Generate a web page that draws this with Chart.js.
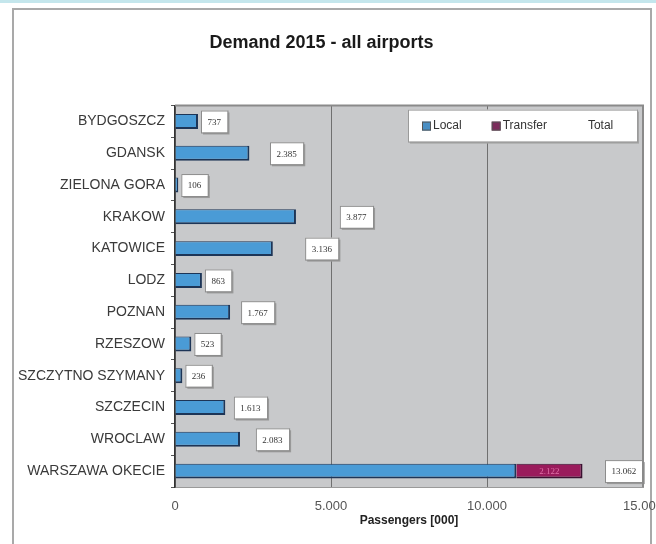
<!DOCTYPE html>
<html>
<head>
<meta charset="utf-8">
<title>Demand 2015 - all airports</title>
<script src="https://cdn.jsdelivr.net/npm/chart.js@4/dist/chart.umd.min.js"></script>
<style>
	html, body { margin: 0; padding: 0; background: #fff; }
	#wrap { position: relative; width: 656px; height: 544px; overflow: hidden; }
	#strip { position: absolute; left: 0; top: 0; width: 656px; height: 3px; background: #c4e6ec; }
	#frame { position: absolute; left: 12px; top: 8px; width: 636px; height: 600px; border: 2px solid #a9a9a9; border-bottom: none; }
	#chart { position: absolute; left: 0; top: 0; }
</style>
</head>
<body>
<div id="wrap">
	<div id="strip"></div>
	<div id="frame"></div>
	<canvas id="chart" width="656" height="544"></canvas>
</div>
<script>
// Datos (pasajeros en miles)
const airports = ['BYDGOSZCZ', 'GDANSK', 'ZIELONA GORA', 'KRAKOW', 'KATOWICE', 'LODZ',
	'POZNAN', 'RZESZOW', 'SZCZYTNO SZYMANY', 'SZCZECIN', 'WROCLAW', 'WARSZAWA OKECIE'];
const localPax = [737, 2385, 106, 3877, 3136, 863, 1767, 523, 236, 1613, 2083, 10940];
const transferPax = [null, null, null, null, null, null, null, null, null, null, null, 2122];
const totalPax = [737, 2385, 106, 3877, 3136, 863, 1767, 523, 236, 1613, 2083, 13062];
const xTicks = [0, 5000, 10000, 15000];

function fmt(n) {
	return String(n).replace(/\B(?=(\d{3})+(?!\d))/g, '.');
}

// Fondo gris y borde del area de trazado
const plotArea = {
	id: 'plotArea',
	beforeDraw: function (chart) {
		const a = chart.chartArea;
		const ctx = chart.ctx;
		ctx.save();
		ctx.fillStyle = '#c8c9cb';
		ctx.fillRect(a.left, a.top, a.right - a.left, a.bottom - a.top);
		ctx.restore();
	},
	afterDraw: function (chart) {
		const a = chart.chartArea;
		const ctx = chart.ctx;
		ctx.save();
		ctx.strokeStyle = '#8a8a8a';
		ctx.lineWidth = 2;
		ctx.beginPath();
		ctx.moveTo(a.left, a.top);
		ctx.lineTo(a.right, a.top);
		ctx.lineTo(a.right, a.bottom);
		ctx.stroke();
		ctx.restore();
	}
};

// Etiquetas: totales en cajas blancas, transfer dentro de la barra
const valueLabels = {
	id: 'valueLabels',
	afterDatasetsDraw: function (chart) {
		const ctx = chart.ctx;
		const a = chart.chartArea;
		const totMeta = chart.getDatasetMeta(2);
		const locMeta = chart.getDatasetMeta(0);
		const trMeta = chart.getDatasetMeta(1);
		ctx.save();
		ctx.font = '9px "Liberation Serif", "DejaVu Serif", serif';
		ctx.textBaseline = 'middle';
		totMeta.data.forEach((el, i) => {
			const txt = fmt(totalPax[i]);
			const w = ctx.measureText(txt).width + 13;
			const h = 22;
			const center = (el.x + el.base) / 2;
			let left = Math.max(center - w / 2, el.base + 3);
			left = Math.min(left, a.right - 38);
			const top = el.y - h / 2;
			ctx.fillStyle = '#9a9a9a';
			ctx.fillRect(left + 2, top + 2, w, h);
			ctx.fillStyle = '#ffffff';
			ctx.fillRect(left, top, w, h);
			ctx.strokeStyle = '#8c8c8c';
			ctx.lineWidth = 1;
			ctx.strokeRect(left + 0.5, top + 0.5, w, h);
			ctx.fillStyle = '#333';
			ctx.textAlign = 'left';
			ctx.fillText(txt, left + 6.5, el.y + 1);
		});
		trMeta.data.forEach((el, i) => {
			if (transferPax[i] == null) {return;}
			ctx.fillStyle = '#e070a8';
			ctx.textAlign = 'center';
			ctx.fillText(fmt(transferPax[i]), (el.x + el.base) / 2, el.y + 1);
		});
		ctx.restore();
	}
};

// Leyenda dentro del area de trazado, arriba a la derecha
const boxLegend = {
	id: 'boxLegend',
	afterDraw: function (chart) {
		const ctx = chart.ctx;
		const a = chart.chartArea;
		const bx = 408, by = a.top + 4, bw = a.right - 6 - bx, bh = 32;
		ctx.save();
		ctx.fillStyle = '#a5a5a5';
		ctx.fillRect(bx + 2, by + 2, bw, bh);
		ctx.fillStyle = '#ffffff';
		ctx.fillRect(bx, by, bw, bh);
		ctx.strokeStyle = '#9a9a9a';
		ctx.lineWidth = 1;
		ctx.strokeRect(bx + 0.5, by + 0.5, bw, bh);
		ctx.font = '12px "Liberation Sans", Arial, sans-serif';
		ctx.textBaseline = 'middle';
		ctx.textAlign = 'left';
		let x = bx + 14;
		const cy = by + bh / 2;
		chart.data.datasets.forEach((ds) => {
			if (ds.legendColor) {
				ctx.fillStyle = ds.legendColor;
				ctx.fillRect(x, cy - 4, 9, 9);
				ctx.strokeStyle = '#555';
				ctx.strokeRect(x + 0.5, cy - 3.5, 8, 8);
			}
			ctx.fillStyle = '#333';
			ctx.fillText(ds.label, x + 11, cy);
			x += 11 + ctx.measureText(ds.label).width + 30;
		});
		ctx.restore();
	}
};

new Chart(document.getElementById('chart'), {
	type: 'bar',
	data: {
		labels: airports,
		datasets: [
			{
				label: 'Local',
				data: localPax,
				backgroundColor: '#4a9bd6',
				borderColor: '#1d3557',
				borderWidth: { top: 1, right: 2, bottom: 2, left: 0 },
				borderSkipped: false,
				legendColor: '#4a8fc4'
			},
			{
				label: 'Transfer',
				data: transferPax,
				backgroundColor: '#9a1b5c',
				borderColor: '#3a1030',
				borderWidth: { top: 1, right: 2, bottom: 2, left: 0 },
				borderSkipped: false,
				legendColor: '#7c2c5c'
			},
			{
				label: 'Total',
				data: totalPax,
				backgroundColor: 'rgba(0,0,0,0)',
				borderWidth: 0
			}
		]
	},
	options: {
		indexAxis: 'y',
		responsive: false,
		animation: false,
		barPercentage: 0.47,
		categoryPercentage: 1,
		layout: { padding: { left: 0, right: 13, top: 0, bottom: 0 } },
		plugins: {
			legend: { display: false },
			tooltip: { enabled: false },
			title: {
				display: true,
				text: 'Demand 2015 - all airports',
				color: '#1a1a1a',
				font: { family: '"Liberation Sans", Arial, sans-serif', size: 18, weight: 'bold' },
				padding: { top: 32, bottom: 52 }
			}
		},
		scales: {
			x: {
				stacked: true,
				min: 0,
				max: 15000,
				afterBuildTicks: function (scale) {
					scale.ticks = xTicks.map(v => ({ value: v }));
				},
				afterFit: function (scale) {
					scale.height = 57;
					scale.paddingLeft = 0;
					scale.paddingRight = 0;
				},
				grid: { color: '#707070', lineWidth: 1, drawTicks: false },
				border: { display: true, color: '#9a9a9a' },
				ticks: {
					padding: 12,
					maxRotation: 0,
					color: '#555',
					font: { family: '"Liberation Sans", Arial, sans-serif', size: 13 },
					callback: function (v) { return fmt(v); }
				},
				title: {
					display: true,
					text: 'Passengers [000]',
					color: '#222',
					font: { family: '"Liberation Sans", Arial, sans-serif', size: 12, weight: 'bold' },
					padding: { top: 4, bottom: 16 }
				}
			},
			y: {
				stacked: true,
				afterFit: function (scale) {
					scale.width = 175;
				},
				grid: { drawOnChartArea: false, tickLength: 4, color: '#555' },
				border: { display: true, color: '#333', width: 1.5 },
				ticks: {
					padding: 6,
					autoSkip: false,
					color: '#3a3a3a',
					font: { family: '"Liberation Sans", Arial, sans-serif', size: 14 }
				}
			}
		}
	},
	plugins: [plotArea, valueLabels, boxLegend]
});
</script>
</body>
</html>
